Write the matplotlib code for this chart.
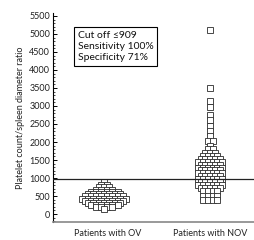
import numpy as np
import matplotlib
matplotlib.use("Agg")
import matplotlib.pyplot as plt
from matplotlib.ticker import MultipleLocator

plt.rcParams['font.family'] = ['Lato', 'DejaVu Sans']

categories = ["Patients with OV", "Patients with NOV"]
# Dot-plot rows: ratio value and number of patients at that value
ov_row_values = [880, 810, 740, 670, 610, 550, 490, 430, 370, 310, 250, 200, 150]
ov_row_counts = [1, 2, 3, 4, 6, 7, 8, 9, 8, 7, 6, 4, 1]
nov_row_values = [5100, 3500, 3150, 2980, 2750, 2600, 2450, 2300, 2170, 2030, 1900, 1800,
                  1700, 1610, 1530, 1450, 1370, 1290, 1210, 1130, 1050, 970, 890, 810,
                  730, 650, 500, 400]
nov_row_counts = [1, 1, 1, 1, 1, 1, 1, 1, 1, 2, 1, 2,
                  3, 4, 5, 6, 5, 6, 5, 6, 5, 6, 5, 6,
                  5, 4, 4, 4]
cutoff_line = 970
box_lines = ["Cut off \u2264909", "Sensitivity 100%", "Specificity 71%"]
ytick_max = 5500

W, H = 255, 240
fig = plt.figure(figsize=(W / 100, H / 100), dpi=100)
ax = fig.add_axes([53 / W, 1 - 222 / H, 202 / W, 209 / H])
ax.set_xlim(0.46, 2.44)
ax.set_ylim(-222, 5583)


def dotplot_positions(row_values, row_counts, xc, step_px=5.0, shift_px=0.0):
    """Spread equal values side by side (in pixels), centred on category xc."""
    trans = ax.transData
    inv = trans.inverted()
    x0 = trans.transform((xc, 0))[0] + shift_px
    xs, ys = [], []
    for v, n in zip(row_values, row_counts):
        for j in range(n):
            dx = (j - (n - 1) / 2) * step_px
            yp = trans.transform((xc, v))[1]
            xs.append(inv.transform((x0 + dx, yp))[0])
            ys.append(v)
    return np.array(xs), np.array(ys)


groups = [(ov_row_values, ov_row_counts, 5.4, -4.0),
          (nov_row_values, nov_row_counts, 4.8, 0.0)]
for i, (rv, rc, step, shift) in enumerate(groups):
    xs, ys = dotplot_positions(rv, rc, i + 1, step, shift)
    ax.plot(xs, ys, linestyle='none', marker='s', markersize=3.8,
            markerfacecolor='white', markeredgecolor='#2a2a2a', markeredgewidth=0.6)

ax.axhline(cutoff_line, color='#222222', lw=0.9, zorder=3)

for s in ['top', 'right']:
    ax.spines[s].set_visible(False)
ax.spines['left'].set_color('black')
ax.spines['left'].set_linewidth(0.8)
ax.spines['bottom'].set_color('#888888')
ax.spines['bottom'].set_linewidth(1.2)

ax.set_xticks([1, 2])
ax.set_xticklabels(categories, fontsize=6.5, color='#222222')
ax.tick_params(axis='x', length=0, pad=5)

ax.set_yticks(np.arange(0, ytick_max + 1, 500))
ax.yaxis.set_minor_locator(MultipleLocator(100))
ax.tick_params(axis='y', which='major', direction='in', length=3, width=0.7, labelsize=6.5,
               pad=2, labelcolor='#222222')
ax.tick_params(axis='y', which='minor', direction='in', length=1.5, width=0.5)
ax.set_ylabel("Platelet count/spleen diameter ratio", fontsize=6.5, color='#222222', labelpad=3)

ax.text((78 - 53) / 202, (222 - 31) / 209, "\n".join(box_lines), transform=ax.transAxes,
        ha='left', va='top', fontsize=7.5, linespacing=1.3, color='#111111',
        bbox=dict(boxstyle='square,pad=0.35', fc='white', ec='black', lw=0.8))

fig.savefig("out.png", dpi=100)
